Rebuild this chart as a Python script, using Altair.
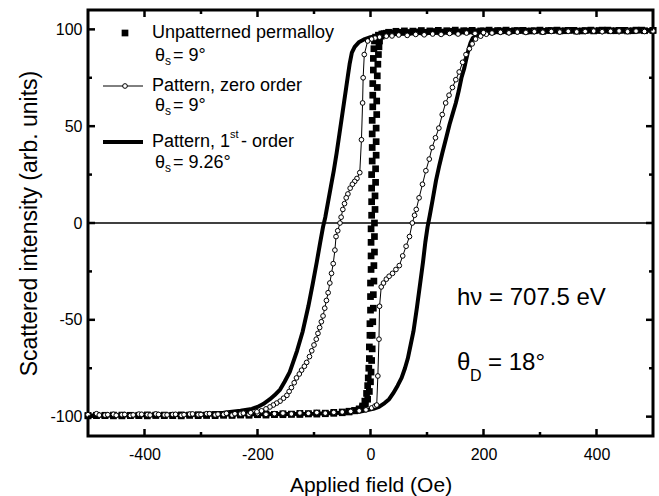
import altair as alt
import pandas as pd

FONT = "Liberation Sans"

# Unpatterned permalloy (squares): ascending and descending branches (H [Oe], intensity)
UA = [(-500,-99.6),(-485,-99.3),(-470,-99.5),(-455,-99.2),(-440,-99.6),(-425,-99.3),(-410,-99.5),(-395,-99.1),
      (-380,-99.4),(-365,-99.2),(-350,-99.5),(-335,-99.1),(-320,-99.3),(-305,-99),(-290,-99.3),(-275,-98.9),
      (-260,-99.2),(-245,-98.8),(-230,-99.1),(-215,-98.7),(-200,-99),(-185,-98.6),(-170,-98.9),(-155,-98.5),
      (-140,-98.7),(-125,-98.3),(-110,-98.5),(-95,-98.1),(-80,-98.2),(-65,-97.8),(-50,-97.6),(-38,-97.2),
      (-28,-96.8),(-20,-96.2),(-14,-95.2),(-9,-93.5),(-5,-91),(-2,-87),(0,-82),(1,-77),(2,-71),(3,-65),
      (3,-58),(4,-51),(5,-44),(5,-37),(6,-30),(6,-22),(7,-15),(7,-7),(7,0),(8,7),(8,14),(9,21),(9,28),
      (10,35),(10,42),(10,49),(11,56),(11,63),(12,70),(12,76),(13,82),(14,87),(15,91),(16,94),
      (19,96.5),(24,97.8),(32,98.5),(45,99),(60,99.2),(75,99.1),(90,99.4),(105,99.2),(120,99.5),(135,99.3),
      (150,99.6),(165,99.3),(180,99.5),(195,99.2),(210,99.6),(225,99.4),(240,99.6),(255,99.3),(270,99.5),
      (285,99.2),(300,99.6),(315,99.4),(330,99.6),(345,99.3),(360,99.5),(375,99.2),(390,99.6),(405,99.4),
      (420,99.6),(435,99.3),(450,99.5),(465,99.3),(480,99.6),(500,99.5)]
UD = [(500,99.5),(485,99.3),(470,99.6),(455,99.2),(440,99.5),(425,99.3),(410,99.6),(395,99.2),(380,99.4),
      (365,99.1),(350,99.5),(335,99.2),(320,99.4),(305,99),(290,99.3),(275,99.1),(260,99.4),(245,99),
      (230,99.2),(215,98.9),(200,99.2),(185,98.8),(170,99.1),(155,98.7),(140,99),(125,98.6),(110,98.9),
      (95,98.5),(80,98.7),(65,98.4),(50,98.5),(38,98.2),(28,98),(20,97.6),(14,97),(9,96),(7,94),(6,90),
      (5,85),(5,79),(4,72),(4,66),(4,60),(3,53),(3,46),(3,39),(3,32),(2,25),(2,18),(2,11),(2,4),(1,-3),
      (1,-10),(1,-17),(1,-24),(0,-31),(0,-38),(0,-45),(-1,-52),(-1,-58),(-2,-64),(-2,-70),(-3,-75),(-4,-80),
      (-5,-84),(-7,-88),(-10,-92),(-14,-94.5),(-20,-96),(-28,-97),(-38,-97.6),(-50,-98),(-65,-98.3),(-80,-98.5),
      (-95,-98.7),(-110,-98.6),(-125,-98.9),(-140,-98.8),(-155,-99),(-170,-98.9),(-185,-99.2),(-200,-99),
      (-215,-99.3),(-230,-99.1),(-245,-99.4),(-260,-99.2),(-275,-99.5),(-290,-99.3),(-305,-99.5),(-320,-99.2),
      (-335,-99.6),(-350,-99.3),(-365,-99.5),(-380,-99.2),(-395,-99.6),(-410,-99.3),(-425,-99.5),(-440,-99.2),
      (-455,-99.6),(-470,-99.3),(-485,-99.5),(-500,-99.4)]

# Pattern, zero order (open circles)
ZA = [(-500,-99),(-485,-98.5),(-470,-99.2),(-455,-98.8),(-440,-99),(-425,-99.4),(-410,-98.7),(-395,-99),
      (-380,-98.6),(-365,-99.1),(-350,-98.9),(-335,-99.3),(-320,-98.7),(-305,-99),(-290,-98.5),(-275,-99.1),
      (-260,-98.8),(-245,-99.2),(-230,-98.6),(-215,-98.9),(-200,-98.4),(-185,-98.8),(-170,-98.5),(-155,-98.2),
      (-140,-98.6),(-125,-98.1),(-110,-98.3),(-95,-97.9),(-80,-98.2),(-65,-97.8),(-50,-97.6),(-35,-97.3),
      (-20,-97),(-8,-96.5),(2,-95.5),(8,-94.5),(11,-94),(13,-79),(15,-60),(16,-43),(19,-33),(23,-31),
      (28,-29),(33,-27.5),(39,-26),(45,-24),(51,-22),(57,-17),(63,-12),(69,-7),(74,0),(78,4),(81,7),
      (86,13),(92,20),(98,27),(104,33),(109,39),(115,44),(121,49),(127,56),(133,62),(139,66),(145,70),
      (151,74),(157,78),(163,83),(169,87),(175,90),(180,92.5),(186,95),(195,96.5),(205,97.5),(215,98.2),
      (230,98.5),(245,98.3),(260,98.8),(275,98.6),(290,99),(305,98.7),(320,99.1),(335,98.8),(350,99.2),
      (365,98.9),(380,99),(395,99.3),(410,98.9),(425,99.1),(440,98.8),(455,99.2),(470,99),(485,99.1),(500,99)]
ZD = [(500,99.2),(485,98.9),(470,99.1),(455,98.8),(440,99.2),(425,99),(410,98.8),(395,99.1),(380,98.9),
      (365,98.7),(350,99),(335,98.6),(320,98.9),(305,98.5),(290,98.8),(275,98.4),(260,98.6),(245,98.2),
      (230,98.5),(215,98.1),(200,98.3),(185,97.9),(170,98.1),(155,97.6),(140,97.9),(125,97.4),(110,97.6),
      (95,97.2),(80,97.4),(65,96.9),(50,97.1),(38,96.6),(28,96.5),(16,96),(8,95.5),(2,95),(-5,94),(-11,87),
      (-13,75),(-14,62),(-16,43),(-19,26),(-24,23),(-28,21.5),(-32,20),(-36,18),(-40,15),(-43,13),(-46,10),
      (-49,7),(-52,3),(-54,0),(-58,-4),(-61,-7),(-63,-14),(-66,-21),(-69,-26),(-72,-31),(-75,-36),(-78,-40),
      (-81,-44),(-84,-48),(-87,-51),(-90,-54),(-93,-57),(-96,-60),(-100,-63),(-104,-66),(-108,-69),(-113,-72),
      (-117,-74),(-122,-76),(-126,-78),(-131,-80),(-135,-82.5),(-140,-85),(-144,-87),(-148,-89),(-154,-90.5),
      (-160,-92),(-166,-93),(-172,-94),(-178,-95),(-185,-96),(-193,-97),(-201,-97.5),(-212,-98),(-225,-98.2),
      (-240,-98.5),(-255,-98.3),(-270,-98.7),(-285,-98.5),(-300,-98.9),(-315,-98.6),(-330,-99),(-345,-98.8),
      (-360,-99.1),(-375,-98.9),(-390,-99.2),(-405,-98.8),(-420,-99.1),(-435,-98.9),(-450,-99.3),(-465,-99),
      (-480,-99.2),(-500,-99)]

# Pattern, 1st order (thick line)
TA = [(-500,-99.5),(-400,-99.3),(-300,-99),(-200,-98.8),(-100,-98.5),(-50,-98),(-20,-97.5),(5,-96),(15,-95),
      (25,-93),(33,-91),(40,-88),(48,-84),(55,-80),(61,-75),(66,-70),(71,-63),(76,-56),(82,-44),(88,-31),
      (93,-20),(97,-10),(101,-2),(105,4),(110,12),(116,22),(122,30),(127,36),(134,44),(140,51),(146,57),
      (151,62),(156,68),(161,75),(166,80),(169,84),(173,89),(177,93),(181,95.5),(188,97),(200,98),(230,98.7),
      (300,99),(400,99.2),(500,99.3)]
TD = [(500,99.3),(400,99.2),(300,99),(200,98.7),(100,98.3),(50,97.8),(16,97),(0,96),(-10,95),(-20,93.5),
      (-28,91),(-33,88),(-37,82),(-40,76),(-43,70),(-47,62),(-51,54),(-55,46),(-60,36),(-65,27),(-70,19),
      (-75,11),(-80,3),(-84,-2),(-89,-10),(-95,-20),(-102,-31),(-110,-43),(-120,-56),(-130,-66),(-137,-72),
      (-143,-77),(-152,-82),(-160,-86),(-170,-89),(-178,-91),(-190,-93.5),(-200,-95),(-210,-96),(-230,-97),
      (-260,-98),(-300,-98.6),(-400,-99.2),(-500,-99.5)]

X_MAJOR = [-400, -200, 0, 200, 400]
X_MINOR = [-300, -100, 100, 300]
Y_MAJOR = [-100, -50, 0, 50, 100]
Y_MINOR = [-75, -25, 25, 75]

X_DOM = [-500, 500]
Y_DOM = [-110, 110]
W, PH = 565, 426


def loop_frame(*branches):
    rows = []
    i = 0
    for br in branches:
        for h, m in br:
            rows.append({"H": h, "M": m, "i": i})
            i += 1
    return pd.DataFrame(rows)


xs = alt.Scale(domain=X_DOM, nice=False, zero=False)
ys = alt.Scale(domain=Y_DOM, nice=False, zero=False)

df_u = loop_frame(UA, UD)
df_z = loop_frame(ZA, ZD)
df_t = loop_frame(TA, TD)

xax = alt.Axis(values=X_MAJOR, title="Applied field (Oe)", grid=False, domain=False, ticks=False,
               tickSize=0, labelPadding=10, labelFontSize=16, titleFontSize=21, titlePadding=12,
               labelFont=FONT, titleFont=FONT, labelColor="black", titleColor="black",
               titleFontWeight="normal", labelExpr="'' + datum.value")
yax = alt.Axis(values=Y_MAJOR, title="Scattered intensity (arb. units)", grid=False, domain=False,
               ticks=False, tickSize=0, labelPadding=6, labelFontSize=16, titleFontSize=23,
               titlePadding=8, labelFont=FONT, titleFont=FONT, labelColor="black", titleColor="black",
               titleFontWeight="normal", labelExpr="'' + datum.value")


def X(f):
    return alt.X(f, scale=xs, axis=xax)


def Y(f):
    return alt.Y(f, scale=ys, axis=yax)


thick = alt.Chart(df_t).mark_line(color="black", strokeWidth=4, strokeJoin="round").encode(
    x=X("H:Q"), y=Y("M:Q"), order="i:Q")
squares = alt.Chart(df_u).mark_point(shape="square", filled=True, color="black", size=45, opacity=1).encode(
    x=X("H:Q"), y=Y("M:Q"))
zline = alt.Chart(df_z).mark_line(color="black", strokeWidth=1).encode(
    x=X("H:Q"), y=Y("M:Q"), order="i:Q")
zpts = alt.Chart(df_z).mark_point(shape="circle", filled=True, fill="white", stroke="black",
                                  strokeWidth=1, size=22, opacity=1).encode(
    x=X("H:Q"), y=Y("M:Q"))

zero_rule = alt.Chart(pd.DataFrame({"M": [0]})).mark_rule(color="black", strokeWidth=1.5).encode(
    y=Y("M:Q"), x=alt.value(0), x2=alt.value(W))

# inward tick marks on all four sides (lengths in pixels converted to data units)
px_x = (X_DOM[1] - X_DOM[0]) / W
px_y = (Y_DOM[1] - Y_DOM[0]) / PH


def xticks(vals, length):
    L = length * px_y
    rows = []
    for v in vals:
        rows.append({"H": v, "M": Y_DOM[0], "M2": Y_DOM[0] + L})
        rows.append({"H": v, "M": Y_DOM[1], "M2": Y_DOM[1] - L})
    return alt.Chart(pd.DataFrame(rows)).mark_rule(color="black", strokeWidth=2.5).encode(
        x=X("H:Q"), y=Y("M:Q"), y2="M2:Q")


def yticks(vals, length):
    L = length * px_x
    rows = []
    for v in vals:
        rows.append({"M": v, "H": X_DOM[0], "H2": X_DOM[0] + L})
        rows.append({"M": v, "H": X_DOM[1], "H2": X_DOM[1] - L})
    return alt.Chart(pd.DataFrame(rows)).mark_rule(color="black", strokeWidth=2.5).encode(
        y=Y("M:Q"), x=X("H:Q"), x2="H2:Q")


one = pd.DataFrame({"a": [0]})


def txt(s, x, y, size, baseline="middle"):
    return alt.Chart(one).mark_text(text=s, font=FONT, fontSize=size, align="left",
                                    baseline=baseline, color="black").encode(
        x=alt.value(x), y=alt.value(y))


legend = [
    alt.Chart(one).mark_point(shape="square", filled=True, color="black", size=45, opacity=1).encode(
        x=alt.value(37), y=alt.value(23)),
    txt("Unpatterned permalloy", 64, 23, 18),
    txt("θ", 67, 46, 18), txt("s", 77, 51, 12), txt("= 9°", 85, 46, 18),
    alt.Chart(one).mark_rule(color="black", strokeWidth=1).encode(
        x=alt.value(15), x2=alt.value(55), y=alt.value(76)),
    alt.Chart(one).mark_point(shape="circle", filled=True, fill="white", stroke="black",
                              strokeWidth=1, size=22, opacity=1).encode(
        x=alt.value(37), y=alt.value(76)),
    txt("Pattern, zero order", 64, 76, 18),
    txt("θ", 67, 96, 18), txt("s", 77, 101, 12), txt("= 9°", 85, 96, 18),
    alt.Chart(one).mark_rule(color="black", strokeWidth=4).encode(
        x=alt.value(15), x2=alt.value(55), y=alt.value(132)),
    txt("Pattern, 1", 64, 132, 18), txt("st", 142, 125, 11), txt("- order", 153, 132, 18),
    txt("θ", 67, 153, 18), txt("s", 77, 158, 12), txt("= 9.26°", 85, 153, 18),
]

annot = [
    txt("hν = 707.5 eV", 369, 288, 24),
    txt("θ", 369, 353, 24), txt("D", 382, 366, 16), txt("= 18°", 400, 353, 24),
]

layers = [thick, zero_rule, squares, zline, zpts,
          xticks(X_MAJOR, 7), xticks(X_MINOR, 4), yticks(Y_MAJOR, 7), yticks(Y_MINOR, 4)] \
    + legend + annot

chart = alt.layer(*layers).properties(
    width=W, height=PH,
    background="white",
    autosize=alt.AutoSizeParams(type="none"),
    padding={"left": 88, "top": 10, "right": 6, "bottom": 60},
).configure_view(stroke="black", strokeWidth=3)

chart.save("out.html", embed_options={"renderer": "svg", "actions": False})
